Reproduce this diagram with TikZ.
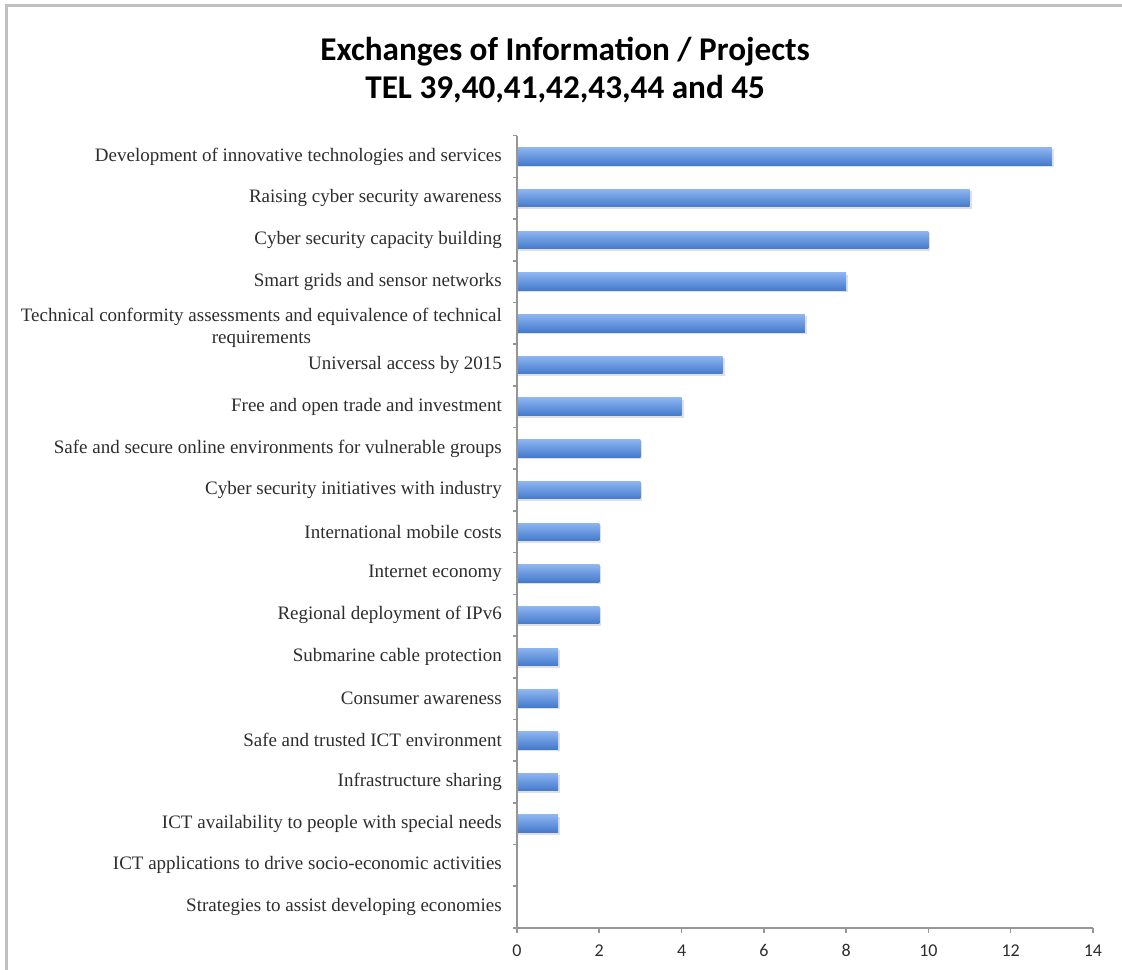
\documentclass[tikz,border=0pt]{standalone}
\usepackage{fontspec}
\setmainfont{Liberation Serif}
\newfontfamily\calibri{Carlito}
\usepackage{tikz}
\usetikzlibrary{calc}
\definecolor{barlight}{RGB}{140,180,240}
\definecolor{bardark}{RGB}{68,122,204}
\definecolor{axisgray}{RGB}{150,150,150}
\definecolor{framegray}{RGB}{192,192,192}
\definecolor{labelgray}{RGB}{45,45,45}

\begin{document}
\begin{tikzpicture}[x=20.57pt,y=20.85pt,
    bar/.style={top color=barlight,bottom color=bardark,draw=none},
    barshadow/.style={fill=black!12,draw=none},
    catlabel/.style={anchor=east,inner sep=0pt,align=center,text=labelgray,font=\fontsize{9.5}{11}\selectfont},
    ticklabel/.style={inner sep=0pt,text=labelgray,font=\calibri\fontsize{9}{10}\selectfont},
    charttitle/.style={align=center,inner sep=0pt,text=black,font=\calibri\bfseries\fontsize{16.6}{19}\selectfont}]
            \useasboundingbox (-12.567,-1.007) rectangle (14.706,22.254);
            \draw[framegray,line width=1.5pt] (-12.40,-1.5) -- (-12.40,22.11) -- (15.2,22.11);
            \node[charttitle] (title) at (1.17,20.58) {Exchanges of Information / Projects\\TEL 39,40,41,42,43,44 and 45};
            \coordinate (O) at (0,0);
            \coordinate (T) at (0,19);
            \coordinate (R) at (14,0);
            \foreach \val/\txt [count=\i] in {
                13/Development of innovative technologies and services,
                11/Raising cyber security awareness,
                10/Cyber security capacity building,
                8/Smart grids and sensor networks,
                7/Technical conformity assessments and equivalence of technical\\requirements,
                5/Universal access by 2015,
                4/Free and open trade and investment,
                3/Safe and secure online environments for vulnerable groups,
                3/Cyber security initiatives with industry,
                2/International mobile costs,
                2/Internet economy,
                2/Regional deployment of IPv6,
                1/Submarine cable protection,
                1/Consumer awareness,
                1/Safe and trusted ICT environment,
                1/Infrastructure sharing,
                1/ICT availability to people with special needs,
                0/ICT applications to drive socio-economic activities,
                0/Strategies to assist developing economies}{
                \ifnum\i=5
                    \node[catlabel] (cat\i) at (-0.36,19.4-\i) {\txt};
                \else
                    \node[catlabel] (cat\i) at (-0.36,19.5-\i) {\txt};
                \fi
                \ifnum\val>0
                    \path[barshadow] (0.03,19.5-\i-0.26) rectangle (\val+0.05,19.5-\i+0.17);
                    \path[bar] (0,19.5-\i-0.21) rectangle (\val,19.5-\i+0.21);
                \fi
            }
            \draw[axisgray,line width=1pt] (T) -- (O) -- (R);
            \foreach \k in {0,...,19}
                \draw[axisgray,line width=0.8pt] (0,\k) -- (-0.1,\k);
            \foreach \x in {0,2,...,14}{
                \draw[axisgray,line width=0.8pt] (\x,0) -- (\x,-0.12);
                \node[ticklabel] (tick\x) at (\x,-0.55) {\x};
            }
        \end{tikzpicture}
\end{document}
